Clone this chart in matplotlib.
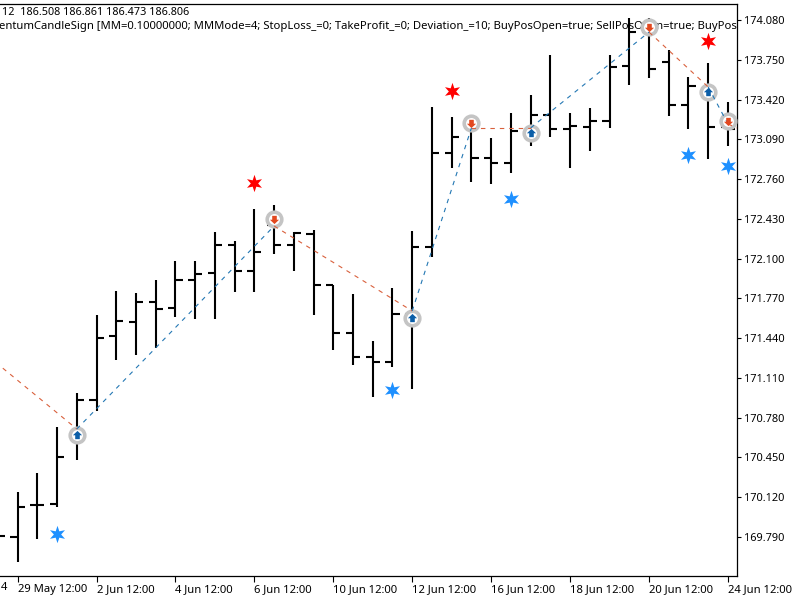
import matplotlib
matplotlib.use('Agg')
import matplotlib.pyplot as plt
from matplotlib.path import Path

# daily-ish OHLC bars, first bar only shows its close at the left edge
opens = [169.797, 169.786, 170.052, 170.063, 170.635, 170.924, 171.455, 171.576, 171.742, 171.687,
         171.924, 171.983, 172.210, 171.997, 172.378, 172.210, 172.301, 171.883, 171.482, 171.285,
         171.239, 171.640, 172.198, 172.976, 173.225, 172.937, 172.893, 173.142, 173.294, 173.173,
         173.192, 173.244, 173.701, 173.978, 173.734, 173.374, 173.482, 173.192]
highs = [169.797, 170.160, 170.323, 170.702, 170.987, 171.631, 171.831, 171.812, 171.920, 172.082,
         172.082, 172.318, 172.248, 172.511, 172.542, 172.318, 172.337, 171.883, 171.806, 171.418,
         171.858, 172.331, 173.360, 173.272, 173.275, 173.098, 173.311, 173.458, 173.790, 173.311,
         173.352, 173.790, 174.094, 174.097, 173.831, 173.604, 173.721, 173.402]
lows = [169.797, 169.584, 169.770, 170.035, 170.428, 170.835, 171.258, 171.299, 171.355, 171.617,
        171.596, 171.596, 171.822, 171.822, 172.138, 171.997, 171.634, 171.341, 171.216, 170.953,
        171.197, 171.015, 172.110, 172.854, 172.733, 172.721, 172.813, 173.037, 173.111, 172.854,
        172.995, 173.181, 173.538, 173.601, 173.286, 173.173, 172.926, 173.037]
closes = [169.797, 170.040, 170.052, 170.450, 170.924, 171.443, 171.584, 171.742, 171.679, 171.924,
          171.974, 172.210, 171.997, 172.157, 172.210, 172.312, 171.883, 171.482, 171.285, 171.239,
          171.640, 172.198, 172.976, 173.111, 172.937, 172.893, 173.161, 173.294, 173.173, 173.200,
          173.244, 173.692, 173.978, 173.671, 173.374, 173.530, 173.192, 173.173]
bar_idx = list(range(-1, 37))

# indicator signals
sell_sig_x = [12, 22, 35]
sell_sig_y = [172.725, 173.493, 173.908]
buy_sig_x = [2, 19, 25, 34, 36]
buy_sig_y = [169.811, 171.009, 172.592, 172.960, 172.866]

# executed deals
buy_deal_x = [3, 20, 26, 35]
buy_deal_y = [170.635, 171.607, 173.142, 173.482]
sell_deal_x = [13, 23, 32, 36]
sell_deal_y = [172.428, 173.225, 174.022, 173.242]

# trade lines, each one is [x0, x1], [y0, y1]
red_lines = [([-0.75, 3], [171.190, 170.685]),
             ([13, 20], [172.370, 171.665]),
             ([23, 26], [173.184, 173.184]),
             ([32, 35], [173.980, 173.524]),
             ([36, 36.46], [173.217, 173.184])]
blue_lines = [([3, 13], [170.685, 172.370]),
              ([20, 23], [171.665, 173.184]),
              ([26, 32], [173.184, 173.980]),
              ([35, 36], [173.524, 173.217])]

price_ticks = [174.08, 173.75, 173.42, 173.09, 172.76, 172.43, 172.10,
               171.77, 171.44, 171.11, 170.78, 170.45, 170.12, 169.79]
date_ticks = [0, 4, 8, 12, 16, 20, 24, 28, 32, 36]
date_labels = ['29 May 12:00', '2 Jun 12:00', '4 Jun 12:00', '6 Jun 12:00', '10 Jun 12:00',
               '12 Jun 12:00', '16 Jun 12:00', '18 Jun 12:00', '20 Jun 12:00', '24 Jun 12:00']

header = '12  186.508 186.861 186.473 186.806'
params = ('entumCandleSign [MM=0.10000000; MMMode=4; StopLoss_=0; TakeProfit_=0; Deviation_=10; '
          'BuyPosOpen=true; SellPosOpen=true; BuyPos')

plt.rcParams['font.family'] = ['Noto Sans', 'DejaVu Sans']
FS = 8.1
TICK_LEN = 0.36  # open/close stub length in bars

fig = plt.figure(figsize=(8, 6), dpi=100)
ax = fig.add_axes([0, 24 / 600, 737 / 800, 572.5 / 600])
ax.set_xlim(-0.892, 36.46)
ax.set_ylim(169.465, 174.217)

# bars
ax.vlines(bar_idx, lows, highs, color='black', lw=1.5, zorder=3)
ax.hlines(opens, [i - TICK_LEN for i in bar_idx], bar_idx, color='black', lw=1.5, zorder=3)
ax.hlines(closes, bar_idx, [i + TICK_LEN for i in bar_idx], color='black', lw=1.5, zorder=3)

# deal rings
ax.plot(buy_deal_x + sell_deal_x, buy_deal_y + sell_deal_y, ls='none', marker='o', ms=10.5,
        mfc='white', mec='#c4c4c4', mew=2.6, zorder=4)

for xs, ys in red_lines:
    ax.plot(xs, ys, color='#d9603c', lw=0.8, ls=(0, (4, 4.5)), zorder=5)
for xs, ys in blue_lines:
    ax.plot(xs, ys, color='#2478b4', lw=0.8, ls=(0, (4, 4.5)), zorder=5)

# little arrows inside the rings
up_arrow = Path([(0, 1), (1, 0.05), (0.5, 0.05), (0.5, -0.8), (-0.5, -0.8), (-0.5, 0.05), (-1, 0.05), (0, 1)], closed=True)
down_arrow = Path([(0, -1), (1, -0.05), (0.5, -0.05), (0.5, 0.8), (-0.5, 0.8), (-0.5, -0.05), (-1, -0.05), (0, -1)], closed=True)
ax.plot(buy_deal_x, buy_deal_y, ls='none', marker=up_arrow, ms=6.6, color='#0b5ea8', mew=0, zorder=6)
ax.plot(sell_deal_x, sell_deal_y, ls='none', marker=down_arrow, ms=6.6, color='#e2481f', mew=0, zorder=6)

# six pointed signal stars
star = Path.unit_regular_star(6, innerCircle=0.42)
ax.plot(sell_sig_x, sell_sig_y, ls='none', marker=star, ms=12.5, color='#ff0000', mew=0, zorder=7)
ax.plot(buy_sig_x, buy_sig_y, ls='none', marker=star, ms=12.5, color='#1e90ff', mew=0, zorder=7)

# axes frame, no visible left edge
ax.spines['left'].set_visible(False)
for side in ['top', 'right', 'bottom']:
    ax.spines[side].set_linewidth(0.9)

ax.yaxis.tick_right()
ax.set_yticks(price_ticks)
ax.set_yticklabels(['%.3f' % p for p in price_ticks])
ax.tick_params(axis='y', length=3, width=0.8, pad=2, labelsize=7.9)
ax.set_xticks(date_ticks)
ax.set_xticklabels(date_labels, ha='left')
ax.tick_params(axis='x', length=4, width=0.8, pad=1.5, labelsize=FS)

# top left info lines
ax.text(2 / 737, 1 - 9 / 572.5, header, transform=ax.transAxes, fontsize=7.8, va='center', ha='left', zorder=2)
ax.text(-1 / 737, 1 - 22.5 / 572.5, params, transform=ax.transAxes, fontsize=FS, va='center', ha='left',
        clip_on=True, zorder=2)
# tail of the previous date label
fig.text(1 / 800, 1 - 587 / 600, '4', fontsize=FS, va='center', ha='left')

fig.savefig('out.png', dpi=100)
